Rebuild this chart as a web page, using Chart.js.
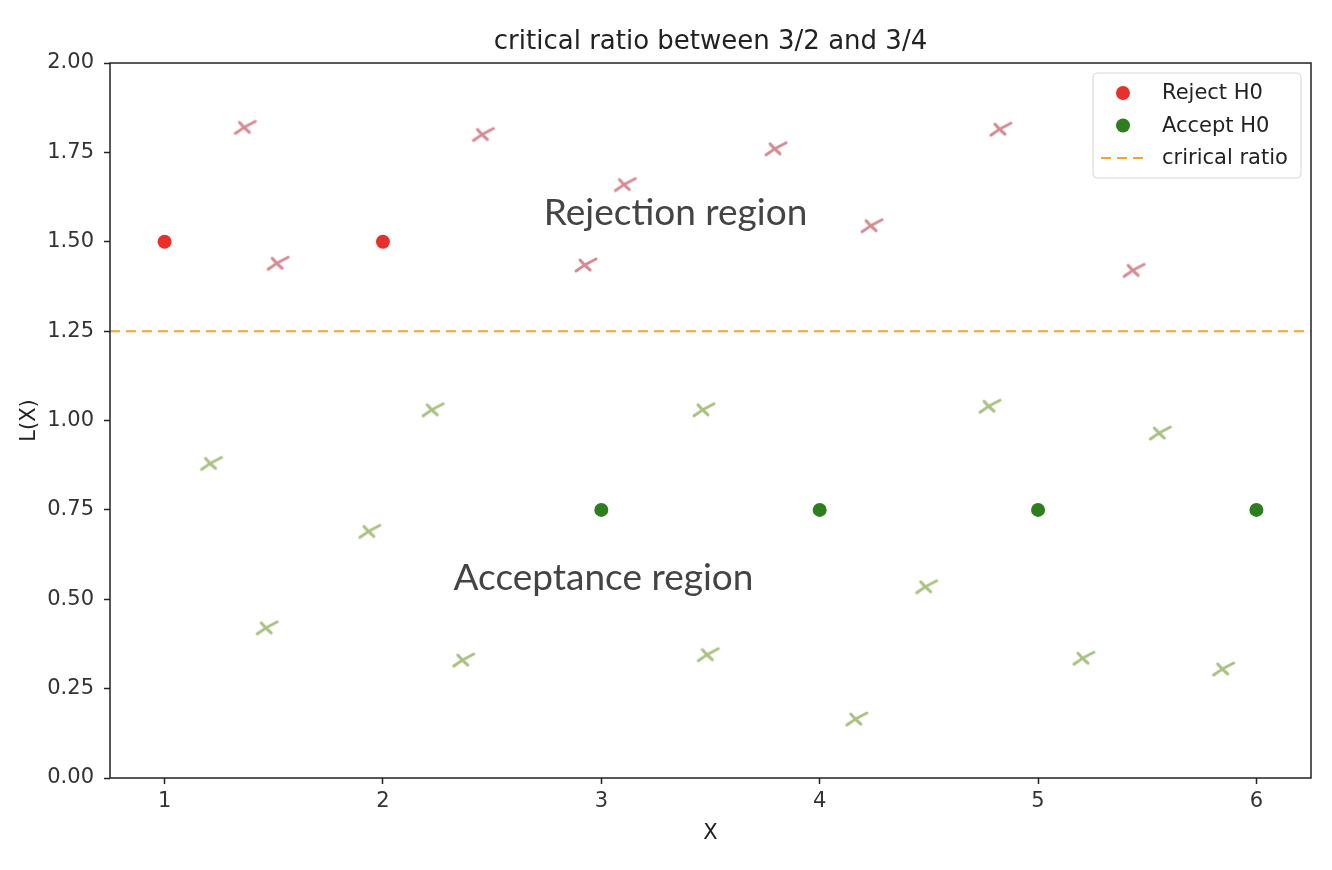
<!DOCTYPE html>
<html>
<head>
<meta charset="utf-8">
<script src="https://cdn.jsdelivr.net/npm/chart.js@4.4.1/dist/chart.umd.min.js"></script>
<style>
  html, body { margin: 0; padding: 0; background: #fff; }
  #chart { display: block; }
</style>
</head>
<body>
<canvas id="chart" width="1332" height="870"></canvas>
<script>
// data
const rejectPoints = [[1, 1.5], [2, 1.5]];
const acceptPoints = [[3, 0.75], [4, 0.75], [5, 0.75], [6, 0.75]];
const criticalRatio = 1.25;

// hand drawn crosses in the two regions
const rejectCrosses = [
  [1.37, 1.82], [1.52, 1.44], [2.46, 1.80], [2.93, 1.435], [3.11, 1.66],
  [3.80, 1.76], [4.24, 1.545], [4.83, 1.815], [5.44, 1.42]
];
const acceptCrosses = [
  [1.215, 0.88], [1.47, 0.42], [1.94, 0.69], [2.23, 1.03], [2.37, 0.33],
  [3.47, 1.03], [3.49, 0.345], [4.17, 0.165], [4.49, 0.535], [4.78, 1.04],
  [5.21, 0.335], [5.56, 0.965], [5.85, 0.305]
];

const xTicks = [1, 2, 3, 4, 5, 6];
const yTicks = [0, 0.25, 0.5, 0.75, 1.0, 1.25, 1.5, 1.75, 2.0];
const xRange = [0.75, 6.25];
const yRange = [0, 2];

const chartTitle = 'critical ratio between 3/2 and 3/4';
const regionLabels = [
  { text: 'Rejection region', x: 3.34, y: 1.58 },
  { text: 'Acceptance region', x: 3.01, y: 0.56 }
];

const RED = '#e8302a';
const GREEN = '#2e7d1f';
const ORANGE = '#f5a623';

const toXY = arr => arr.map(p => ({ x: p[0], y: p[1] }));

// little sketchy "x" used as point style
function sketchCross(color) {
  const c = document.createElement('canvas');
  c.width = 26; c.height = 20;
  const g = c.getContext('2d');
  g.strokeStyle = color;
  g.lineWidth = 3;
  g.lineCap = 'round';
  g.beginPath();
  g.moveTo(3, 16); g.quadraticCurveTo(12, 9, 23, 4);
  g.moveTo(7, 5); g.quadraticCurveTo(12, 11, 17, 15);
  g.stroke();
  return c;
}

const frameAndLegend = {
  id: 'frameAndLegend',
  afterDatasetsDraw(chart) {
    const ctx = chart.ctx;
    const a = chart.chartArea;
    const xs = chart.scales.x, ys = chart.scales.y;
    ctx.save();
    // title, centred over the axes like matplotlib
    ctx.fillStyle = '#222';
    ctx.font = '26px "DejaVu Sans"';
    ctx.textAlign = 'center';
    ctx.textBaseline = 'middle';
    ctx.fillText(chartTitle, (a.left + a.right) / 2, a.top - 21);

    // region labels
    ctx.fillStyle = '#444';
    ctx.font = '37px "Comic Sans MS", "Lato", "Noto Sans", sans-serif';
    regionLabels.forEach(l => ctx.fillText(l.text, xs.getPixelForValue(l.x), ys.getPixelForValue(l.y)));

    // spines
    ctx.strokeStyle = '#222';
    ctx.lineWidth = 1.5;
    ctx.strokeRect(a.left, a.top, a.right - a.left, a.bottom - a.top);

    // legend box
    const bx = a.right - 218, by = a.top + 10, bw = 208, bh = 105;
    ctx.fillStyle = 'rgba(255,255,255,0.85)';
    ctx.strokeStyle = '#d6d6d6';
    ctx.lineWidth = 1;
    ctx.beginPath();
    ctx.roundRect(bx, by, bw, bh, 4);
    ctx.fill();
    ctx.stroke();
    const items = chart.data.datasets.filter(d => d.legend);
    ctx.font = '21px "DejaVu Sans"';
    ctx.textAlign = 'left';
    ctx.textBaseline = 'middle';
    items.forEach((d, i) => {
      const yy = by + 20 + i * 32.5;
      if (d.legend === 'dot') {
        ctx.fillStyle = d.backgroundColor;
        ctx.beginPath();
        ctx.arc(bx + 30, yy, 7, 0, Math.PI * 2);
        ctx.fill();
      } else {
        ctx.strokeStyle = d.borderColor;
        ctx.lineWidth = 2;
        ctx.setLineDash([10, 6]);
        ctx.beginPath();
        ctx.moveTo(bx + 8, yy);
        ctx.lineTo(bx + 52, yy);
        ctx.stroke();
        ctx.setLineDash([]);
      }
      ctx.fillStyle = '#222';
      ctx.fillText(d.label, bx + 69, yy + 1);
    });
    ctx.restore();
  }
};

new Chart(document.getElementById('chart'), {
  type: 'scatter',
  data: {
    datasets: [
      { label: 'rej marks', data: toXY(rejectCrosses), pointStyle: sketchCross('#d68a92'), pointRadius: 10, pointHoverRadius: 10 },
      { label: 'acc marks', data: toXY(acceptCrosses), pointStyle: sketchCross('#aac184'), pointRadius: 10, pointHoverRadius: 10 },
      { label: 'Reject H0', legend: 'dot', data: toXY(rejectPoints), backgroundColor: RED, borderColor: RED, pointRadius: 7, pointBorderWidth: 0 },
      { label: 'Accept H0', legend: 'dot', data: toXY(acceptPoints), backgroundColor: GREEN, borderColor: GREEN, pointRadius: 7, pointBorderWidth: 0 },
      {
        label: 'crirical ratio', legend: 'line', type: 'line',
        data: [{ x: xRange[0], y: criticalRatio }, { x: xRange[1], y: criticalRatio }],
        borderColor: ORANGE, borderWidth: 2, borderDash: [10, 6], pointRadius: 0, fill: false
      }
    ]
  },
  options: {
    responsive: false,
    animation: false,
    layout: { padding: { left: 0, right: 21, top: 63, bottom: 0 } },
    plugins: {
      legend: { display: false },
      tooltip: { enabled: false },
      title: { display: false }
    },
    scales: {
      x: {
        type: 'linear',
        min: xRange[0], max: xRange[1],
        afterFit: s => { s.height = 92; },
        afterBuildTicks: s => { s.ticks = xTicks.map(v => ({ value: v })); },
        grid: { drawOnChartArea: false, drawTicks: true, tickLength: 6, tickWidth: 1.5, tickColor: '#222' },
        border: { display: false },
        ticks: { color: '#333', font: { family: 'DejaVu Sans', size: 21 }, padding: 5 },
        title: { display: true, text: 'X', color: '#222', font: { family: 'DejaVu Sans', size: 21 }, padding: { top: 0, bottom: 24 } }
      },
      y: {
        type: 'linear',
        min: yRange[0], max: yRange[1],
        afterFit: s => { s.width = 110; },
        afterBuildTicks: s => { s.ticks = yTicks.map(v => ({ value: v })); },
        grid: { drawOnChartArea: false, drawTicks: true, tickLength: 6, tickWidth: 1.5, tickColor: '#222' },
        border: { display: false },
        ticks: { color: '#333', font: { family: 'DejaVu Sans', size: 21 }, padding: 10, callback: v => v.toFixed(2) },
        title: { display: true, text: 'L(X)', color: '#222', font: { family: 'DejaVu Sans', size: 21 }, padding: { top: 17, bottom: 0 } }
      }
    }
  },
  plugins: [frameAndLegend]
});
</script>
</body>
</html>
